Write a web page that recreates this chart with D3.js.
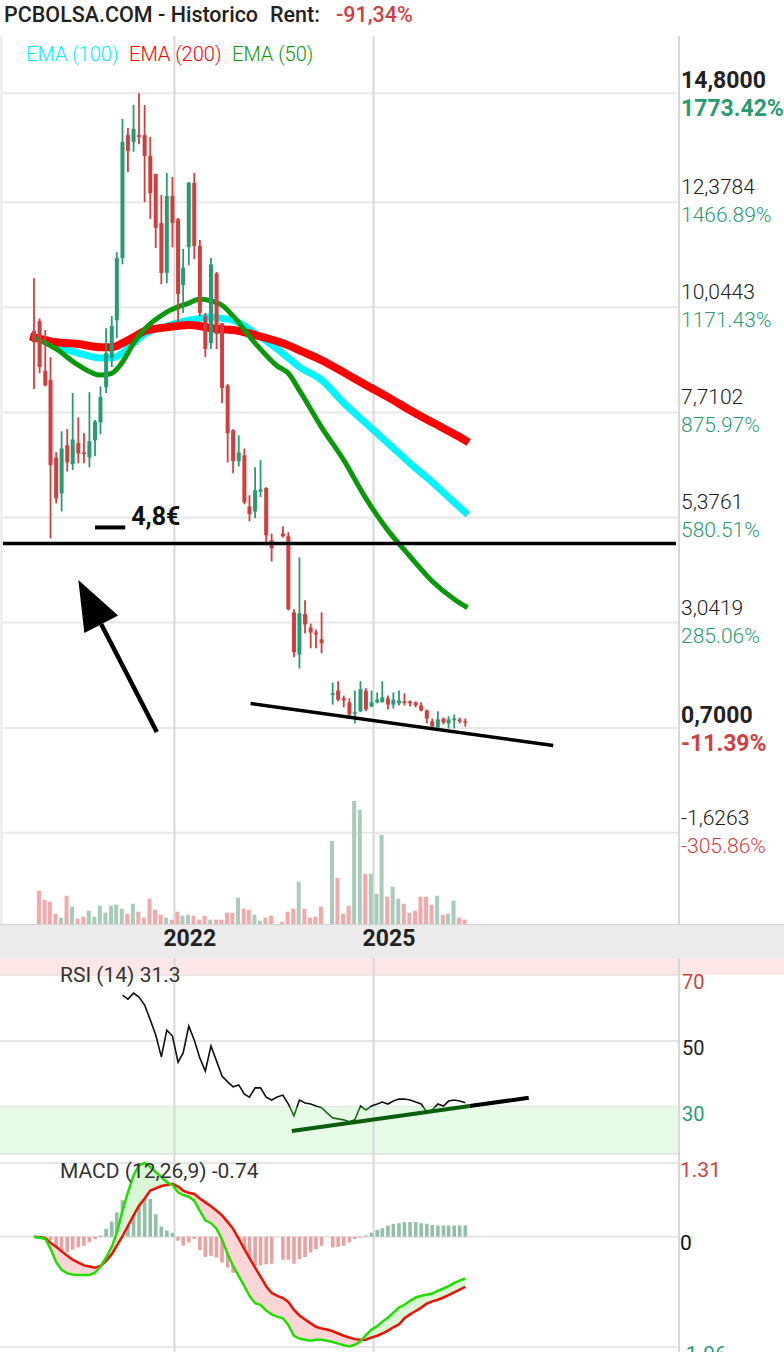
<!DOCTYPE html>
<html>
<head>
<meta charset="utf-8">
<script src="https://cdn.jsdelivr.net/npm/d3@7"></script>
<style>
  body { margin: 0; background: #fff; }
  svg { display: block; font-family: Roboto, "Liberation Sans", sans-serif; }
</style>
</head>
<body>
<div id="chart"></div>
<script>
// monthly candles, first one is Dec 2019 (slots 44 and 53 have no trading)
const firstMonth = "2019-12-01";

const opens = [9.52, 9.74, 8.63, 8.43, 6.71, 5.91, 6.98, 6.56, 7.03, 6.82,
  6.71, 7.09, 7.49, 8.27, 8.92, 9.76, 11.14, 13.87, 13.72, 13.87,
  13.87, 13.41, 13.01, 11.92, 10.81, 12.52, 12.00, 10.54, 11.38, 12.81,
  11.41, 9.85, 9.25, 10.80, 9.69, 8.31, 7.31, 6.63, 6.76, 5.62,
  5.51, 5.95, 6.03, 4.87, null, 5.02, 4.96, 3.27, 2.33, 3.23,
  2.93, 2.82, 2.67, null, 1.45, 1.53, 1.36, 1.27, 1.02, 1.07,
  1.53, 1.18, 1.27, 1.27, 1.36, 1.22, 1.25, 1.29, 1.29, 1.27,
  1.20, 1.09, 0.85, 0.71, 0.91, 0.80, 0.87, 0.89, 0.85];
const highs = [10.69, 9.80, 9.54, 8.94, 6.83, 7.29, 7.34, 8.14, 7.60, 7.25,
  8.16, 7.54, 8.29, 9.58, 9.85, 11.27, 14.23, 14.03, 14.54, 14.80,
  14.54, 13.83, 13.01, 12.54, 13.03, 12.94, 12.03, 11.34, 12.83, 13.03,
  11.54, 9.92, 11.14, 10.83, 9.69, 8.34, 7.34, 7.20, 6.91, 5.87,
  6.49, 6.65, 6.05, 5.02, null, 5.18, 5.05, 3.34, 4.49, 3.54,
  3.02, 2.89, 3.27, null, 1.71, 1.74, 1.42, 1.36, 1.53, 1.74,
  1.58, 1.53, 1.49, 1.74, 1.42, 1.49, 1.53, 1.47, 1.31, 1.29,
  1.27, 1.11, 0.91, 1.07, 0.93, 0.96, 1.00, 0.93, 0.91];
const lows = [8.23, 8.58, 8.29, 4.91, 5.69, 5.51, 6.40, 6.43, 6.58, 6.58,
  6.49, 6.74, 7.23, 8.14, 8.72, 9.36, 11.00, 13.05, 13.50, 13.67,
  12.38, 12.01, 11.36, 10.56, 10.58, 11.38, 9.69, 9.92, 10.98, 11.12,
  9.85, 8.94, 9.12, 9.12, 7.92, 6.60, 6.36, 6.51, 5.67, 5.29,
  5.36, 5.83, 4.76, 4.40, null, 4.93, 3.31, 2.27, 2.02, 2.80,
  2.47, 2.47, 2.36, null, 1.22, 1.29, 1.16, 0.96, 0.80, 1.05,
  1.07, 1.16, 1.25, 1.27, 1.11, 1.13, 1.20, 1.20, 1.18, 1.16,
  1.07, 0.80, 0.73, 0.71, 0.78, 0.69, 0.69, 0.80, 0.73];
const closes = [9.27, 8.72, 8.31, 6.54, 5.80, 6.91, 6.60, 7.11, 6.80, 6.79,
  7.07, 7.51, 8.05, 9.03, 9.63, 11.14, 13.72, 13.52, 14.01, 13.83,
  13.41, 12.58, 11.81, 10.81, 12.52, 11.92, 10.34, 10.92, 12.81, 11.41,
  9.92, 9.12, 11.00, 9.45, 8.25, 7.25, 6.63, 6.82, 5.71, 5.45,
  5.98, 6.00, 4.98, 4.69, null, 4.96, 3.34, 2.38, 3.25, 3.00,
  2.82, 2.78, 2.58, null, 1.47, 1.33, 1.31, 1.00, 1.05, 1.56,
  1.11, 1.27, 1.33, 1.38, 1.22, 1.33, 1.31, 1.27, 1.25, 1.20,
  1.09, 0.91, 0.73, 0.89, 0.82, 0.89, 0.91, 0.85, 0.82];
const volumes = [0, 100, 73, 67, 31, 19, 85, 52, 16, 22, 40,
  22, 55, 34, 55, 58, 46, 31, 61, 37, 19,
  76, 43, 28, 19, 13, 37, 25, 28, 25, 13,
  25, 13, 13, 13, 34, 34, 79, 46, 43, 28,
  10, 19, 25, 0, 7, 37, 46, 127, 46, 19,
  22, 52, 0, 250, 139, 31, 55, 370, 343, 151,
  151, 91, 268, 82, 112, 76, 61, 34, 40, 82,
  82, 58, 85, 28, 31, 70, 19, 13];

// moving averages, read at these candle slots
const emaSlots = [0, 4, 8, 12, 14, 16, 18, 20, 24, 28, 30, 32, 34, 36, 40, 44, 46, 48, 52, 56, 60, 64, 68, 72, 76, 78];
const ema100 = [9.38, 9.18, 9.03, 8.92, 8.92, 9.03, 9.25, 9.45, 9.63, 9.76, 9.80, 9.83, 9.80, 9.76, 9.47, 9.12, 8.92, 8.72, 8.43, 7.92, 7.47, 7.03, 6.58, 6.16, 5.71, 5.49];
const ema200 = [9.38, 9.27, 9.23, 9.16, 9.16, 9.25, 9.38, 9.52, 9.60, 9.65, 9.63, 9.58, 9.56, 9.54, 9.43, 9.29, 9.20, 9.09, 8.87, 8.60, 8.32, 8.05, 7.76, 7.49, 7.23, 7.09];
const ema50 = [9.38, 9.12, 8.76, 8.54, 8.58, 8.83, 9.25, 9.56, 9.94, 10.14, 10.23, 10.19, 10.09, 9.85, 9.25, 8.74, 8.58, 8.20, 7.38, 6.65, 5.80, 5.09, 4.51, 3.96, 3.56, 3.40];

// RSI(14) from slot 16 on
const rsiFirstSlot = 16;
const rsiValues = [63.9, 62.7, 64.5, 63.3, 60.9, 56.4, 51.8, 45.2, 53.3, 51.5,
  43.6, 46.4, 54.5, 50.3, 44.8, 40.9, 48.5, 43.9, 39.4, 37.6,
  36.1, 36.7, 33.9, 33.0, 35.8, 35.8, 33.0, 32.1, 33.0, 33.6,
  30.9, 27.3, 32.1, 31.2, 30.9, 30.3, 29.8, 28.2, 26.7, 26.4,
  26.1, 25.5, 26.1, 30.3, 29.1, 30.3, 30.9, 31.5, 30.9, 31.8,
  32.4, 32.4, 32.1, 31.5, 30.9, 28.5, 29.1, 30.9, 30.3, 31.8,
  32.1, 31.8, 31.3];

// MACD (12,26,9)
const macdValues = [0, -0.02, -0.04, -0.21, -0.45, -0.59, -0.65, -0.67, -0.68, -0.68,
  -0.68, -0.64, -0.53, -0.37, -0.18, 0.07, 0.46, 0.79, 1.09, 1.27,
  1.31, 1.24, 1.15, 1.06, 0.97, 0.92, 0.79, 0.74, 0.71, 0.64,
  0.46, 0.29, 0.24, 0.14, -0.05, -0.31, -0.52, -0.70, -0.88, -1.05,
  -1.18, -1.21, -1.31, -1.38, -1.42, -1.45, -1.57, -1.76, -1.81, -1.83,
  -1.85, -1.83, -1.83, -1.85, -1.87, -1.90, -1.93, -1.95, -1.92, -1.86,
  -1.75, -1.65, -1.59, -1.51, -1.44, -1.35, -1.26, -1.21, -1.14, -1.08,
  -1.05, -1.03, -1.01, -0.96, -0.92, -0.88, -0.82, -0.78, -0.74];
const signalValues = [0, -0.01, -0.02, -0.11, -0.18, -0.26, -0.34, -0.41, -0.46, -0.51,
  -0.53, -0.55, -0.52, -0.43, -0.31, -0.16, 0.01, 0.19, 0.38, 0.55,
  0.68, 0.82, 0.86, 0.90, 0.92, 0.94, 0.89, 0.82, 0.78, 0.76,
  0.68, 0.61, 0.54, 0.46, 0.38, 0.26, 0.14, -0.04, -0.22, -0.38,
  -0.55, -0.71, -0.88, -1.00, -1.05, -1.09, -1.16, -1.30, -1.40, -1.47,
  -1.54, -1.60, -1.63, -1.65, -1.68, -1.72, -1.76, -1.79, -1.82, -1.83,
  -1.83, -1.79, -1.76, -1.72, -1.67, -1.61, -1.56, -1.45, -1.38, -1.32,
  -1.26, -1.19, -1.15, -1.12, -1.08, -1.04, -0.99, -0.94, -0.89];
const histValues = [0, 0, 0, -0.06, -0.34, -0.32, -0.27, -0.23, -0.19, -0.16,
  -0.10, -0.04, 0.02, 0.14, 0.27, 0.43, 0.65, 0.65, 0.83, 0.79,
  0.73, 0.67, 0.40, 0.18, 0.11, 0.07, -0.07, -0.16, -0.10, -0.04,
  -0.24, -0.36, -0.34, -0.37, -0.46, -0.55, -0.64, -0.67, -0.61, -0.55,
  -0.52, -0.51, -0.49, -0.48, 0, -0.41, -0.41, -0.48, -0.40, -0.36,
  -0.28, -0.22, -0.16, 0, -0.19, -0.18, -0.16, -0.10, -0.04, -0.02,
  0.02, 0.07, 0.12, 0.15, 0.20, 0.23, 0.24, 0.26, 0.26, 0.26,
  0.24, 0.23, 0.21, 0.20, 0.20, 0.20, 0.20, 0.20, 0.20];

// axis labels
const priceTicks = [14.8, 12.3784, 10.0443, 7.7102, 5.3761, 3.0419, 0.7, -1.6263];
const priceTickText = ["14,8000", "12,3784", "10,0443", "7,7102", "5,3761", "3,0419", "0,7000", "-1,6263"];
const pctTickText = ["1773.42%", "1466.89%", "1171.43%", "875.97%", "580.51%", "285.06%", "-11.39%", "-305.86%"];
const boldTicks = [14.8, 0.7];
const yearTicks = ["2022", "2025"];
const rsiTicks = [70, 50, 30];
const macdTicks = [1.31, 0, -1.96];
const macdTickText = ["1.31", "0", "-1.96"];

// titles and drawn annotations
const titleText = "PCBOLSA.COM - Historico";
const rentLabel = "Rent:";
const rentText = "-91,34%";
const emaLegend = ["EMA (100)", "EMA (200)", "EMA (50)"];
const levelPrice = 4.8;
const levelText = "4,8€";
const levelDash = ["2020-11-01", "2021-04-16"];
const arrowFrom = ["2021-10-07", 0.61];
const arrowTo = ["2020-08-01", 3.99];
const supportLine = [["2023-03-07", 1.245], ["2027-09-28", 0.31]];
const rsiTrendGreen = [["2023-10-20", 22.7], ["2026-06-25", 30.3]];
const rsiTrendBlack = [["2026-06-25", 30.3], ["2027-05-16", 32.8]];

const width = 784;
const height = 1352;
const left = 3;
const right = 679;

const red = "#d03f3f";
const green = "#2a9a73";

const svg = d3.select("#chart").append("svg")
    .attr("width", width)
    .attr("height", height);

svg.append("rect").attr("width", width).attr("height", height).attr("fill", "#fff");

const parse = d3.timeParse("%Y-%m-%d");
const start = parse(firstMonth);
const dates = opens.map((d, i) => d3.timeMonth.offset(start, i));

const x = d3.scaleTime()
    .domain([start, dates[dates.length - 1]])
    .range([34, 465.3]);
const yP = d3.scaleLinear().domain([-1.6263, 14.8]).range([832.7, 93.3]);
const yV = d3.scaleLinear().domain([0, 370]).range([924, 801]);
const yR = d3.scaleLinear().domain([30, 70]).range([1107, 975]);
const yM = d3.scaleLinear().domain([-1.96, 1.31]).range([1347, 1163]);

const pt = p => [x(parse(p[0])), p[1]];

// ---- grids ----
const grid = svg.append("g");
grid.selectAll(".hp").data(priceTicks).enter().append("line")
    .attr("x1", left).attr("x2", right)
    .attr("y1", d => yP(d)).attr("y2", d => yP(d))
    .attr("stroke", "#e8e8e8").attr("stroke-width", 2);

// RSI zones
svg.append("rect").attr("x", 0).attr("width", width)
    .attr("y", 958).attr("height", yR(70) - 958).attr("fill", "#fde6e6");
svg.append("rect").attr("x", 0).attr("width", right)
    .attr("y", yR(30)).attr("height", 1154 - yR(30)).attr("fill", "#e6fbe6");
grid.selectAll(".hr").data(rsiTicks).enter().append("line")
    .attr("x1", 0).attr("x2", right)
    .attr("y1", d => yR(d)).attr("y2", d => yR(d))
    .attr("stroke", "#e6e6e6").attr("stroke-width", 2);
svg.append("line").attr("x1", 0).attr("x2", right).attr("y1", 1154).attr("y2", 1154)
    .attr("stroke", "#e6e6e6").attr("stroke-width", 2);
svg.selectAll(".hm").data(macdTicks).enter().append("line")
    .attr("x1", 0).attr("x2", right)
    .attr("y1", d => yM(d)).attr("y2", d => yM(d))
    .attr("stroke", "#e6e6e6").attr("stroke-width", 2);

svg.selectAll(".vy").data(yearTicks).enter().append("line")
    .attr("x1", d => x(parse(d + "-01-01")) + 2).attr("x2", d => x(parse(d + "-01-01")) + 2)
    .attr("y1", 36).attr("y2", height)
    .attr("stroke", "#d8d8d8").attr("stroke-width", 2);
svg.append("line").attr("x1", right).attr("x2", right).attr("y1", 36).attr("y2", height)
    .attr("stroke", "#d8d8d8").attr("stroke-width", 2);
svg.append("line").attr("x1", 1.5).attr("x2", 1.5).attr("y1", 36).attr("y2", 924)
    .attr("stroke", "#e8e8e8").attr("stroke-width", 2);

// ---- candles data ----
const candles = dates.map((d, i) => ({
    date: d, o: opens[i], h: highs[i], l: lows[i], c: closes[i], v: volumes[i]
})).filter(d => d.o != null);

// volume
svg.append("g").selectAll("rect").data(candles.filter(d => d.v > 0)).enter().append("rect")
    .attr("x", d => x(d.date) - 2.7)
    .attr("width", 4)
    .attr("y", d => yV(d.v))
    .attr("height", d => yV(0) - yV(d.v))
    .attr("fill", d => d.c >= d.o ? "#a9cbb9" : "#f2a9a9");

// EMAs
const emaLine = d3.line()
    .x((d, i) => x(dates[emaSlots[i]]))
    .y(d => yP(d))
    .curve(d3.curveMonotoneX);
svg.append("path").attr("d", emaLine(ema100)).attr("fill", "none")
    .attr("stroke", "#00f4ff").attr("stroke-width", 7).attr("stroke-linecap", "square");
svg.append("path").attr("d", emaLine(ema200)).attr("fill", "none")
    .attr("stroke", "#ff0000").attr("stroke-width", 8).attr("stroke-linecap", "square");
svg.append("path").attr("d", emaLine(ema50)).attr("fill", "none")
    .attr("stroke", "#0a990a").attr("stroke-width", 5).attr("stroke-linecap", "square");

// candles
const cg = svg.append("g");
cg.selectAll("line").data(candles).enter().append("line")
    .attr("x1", d => x(d.date)).attr("x2", d => x(d.date))
    .attr("y1", d => yP(d.h)).attr("y2", d => yP(d.l))
    .attr("stroke", d => d.c >= d.o ? green : red)
    .attr("stroke-width", 1.8);
cg.selectAll("rect").data(candles).enter().append("rect")
    .attr("x", d => x(d.date) - 2)
    .attr("width", 4)
    .attr("y", d => yP(Math.max(d.o, d.c)))
    .attr("height", d => Math.max(1.5, Math.abs(yP(d.o) - yP(d.c))))
    .attr("fill", d => d.c >= d.o ? green : red);

// ---- annotations ----
svg.append("line")
    .attr("x1", left).attr("x2", 676)
    .attr("y1", yP(levelPrice)).attr("y2", yP(levelPrice))
    .attr("stroke", "#000").attr("stroke-width", 3.5);
svg.append("line")
    .attr("x1", x(parse(levelDash[0]))).attr("x2", x(parse(levelDash[1])))
    .attr("y1", yP(levelPrice) - 16).attr("y2", yP(levelPrice) - 16)
    .attr("stroke", "#000").attr("stroke-width", 4);
svg.append("text")
    .attr("x", x(parse(levelDash[1])) + 6).attr("y", yP(levelPrice) - 18)
    .attr("font-size", 25).attr("font-weight", 700).attr("fill", "#111")
    .text(levelText);

const a0 = [x(parse(arrowFrom[0])), yP(arrowFrom[1])];
const a1 = [x(parse(arrowTo[0])), yP(arrowTo[1])];
const alen = Math.hypot(a1[0] - a0[0], a1[1] - a0[1]);
const ux = (a1[0] - a0[0]) / alen, uy = (a1[1] - a0[1]) / alen;
const base = [a1[0] - ux * 50, a1[1] - uy * 50];
svg.append("line")
    .attr("x1", a0[0]).attr("y1", a0[1]).attr("x2", base[0]).attr("y2", base[1])
    .attr("stroke", "#000").attr("stroke-width", 4.5);
svg.append("path")
    .attr("d", `M${a1[0]},${a1[1]}L${base[0] - uy * 19},${base[1] + ux * 19}L${base[0] + uy * 19},${base[1] - ux * 19}Z`)
    .attr("fill", "#000");

const sl = supportLine.map(pt);
svg.append("line")
    .attr("x1", sl[0][0]).attr("y1", yP(sl[0][1]))
    .attr("x2", sl[1][0]).attr("y2", yP(sl[1][1]))
    .attr("stroke", "#000").attr("stroke-width", 3.5);

// ---- x axis band ----
svg.append("rect").attr("x", 0).attr("y", 924).attr("width", width).attr("height", 34)
    .attr("fill", "#ebebeb");
svg.append("line").attr("x1", 0).attr("x2", width).attr("y1", 924.5).attr("y2", 924.5)
    .attr("stroke", "#d4d4d4").attr("stroke-width", 1);
svg.selectAll(".yl").data(yearTicks).enter().append("text")
    .attr("x", d => x(parse(d + "-01-01")) - 9)
    .attr("y", 946)
    .attr("font-size", 23).attr("font-weight", 700).attr("fill", "#222")
    .text(d => d);

// ---- header ----
const head = svg.append("text").attr("x", 4).attr("y", 22)
    .attr("font-size", 21.5).attr("font-weight", 500);
head.append("tspan").attr("fill", "#222").text(titleText);
head.append("tspan").attr("dx", 12).attr("fill", "#222").text(rentLabel);
head.append("tspan").attr("dx", 16).attr("fill", red).text(rentText);

const legendColors = ["#00f0ff", "#ff0000", "#0a990a"];
const leg = svg.append("text").attr("y", 61).attr("font-size", 20).attr("font-weight", 300);
emaLegend.forEach((t, i) => {
    leg.append("tspan").attr("x", [26, 129, 232][i]).attr("fill", legendColors[i]).text(t);
});

// ---- right price labels ----
const pl = svg.append("g");
priceTicks.forEach((v, i) => {
    const bold = boldTicks.includes(v);
    pl.append("text")
        .attr("x", 681).attr("y", yP(v) - (bold ? 5 : 8))
        .attr("font-size", bold ? 23 : 21).attr("font-weight", bold ? 700 : 300)
        .attr("fill", "#222")
        .text(priceTickText[i]);
    pl.append("text")
        .attr("x", 681).attr("y", yP(v) + (bold ? 23 : 20))
        .attr("font-size", bold ? 23 : 21).attr("font-weight", bold ? 700 : 300)
        .attr("fill", pctTickText[i].startsWith("-") ? red : green)
        .text(pctTickText[i]);
});

// ---- RSI ----
const rsiData = rsiValues.map((v, i) => ({ date: dates[rsiFirstSlot + i], v }));
const rsiLine = d3.line().x(d => x(d.date)).y(d => yR(d.v));
const defs = svg.append("defs");
defs.append("clipPath").attr("id", "rsiUp").append("rect")
    .attr("x", 0).attr("width", width).attr("y", 958).attr("height", yR(30) - 958);
defs.append("clipPath").attr("id", "rsiDown").append("rect")
    .attr("x", 0).attr("width", width).attr("y", yR(30)).attr("height", 1154 - yR(30));
svg.append("path").attr("d", rsiLine(rsiData)).attr("fill", "none")
    .attr("stroke", "#111").attr("stroke-width", 1.6).attr("clip-path", "url(#rsiUp)");
svg.append("path").attr("d", rsiLine(rsiData)).attr("fill", "none")
    .attr("stroke", "#1d6b1d").attr("stroke-width", 1.6).attr("clip-path", "url(#rsiDown)");

const tg = rsiTrendGreen.map(pt), tb = rsiTrendBlack.map(pt);
svg.append("line")
    .attr("x1", tg[0][0]).attr("y1", yR(tg[0][1])).attr("x2", tg[1][0]).attr("y2", yR(tg[1][1]))
    .attr("stroke", "#0b5e0b").attr("stroke-width", 4);
svg.append("line")
    .attr("x1", tb[0][0]).attr("y1", yR(tb[0][1])).attr("x2", tb[1][0]).attr("y2", yR(tb[1][1]))
    .attr("stroke", "#000").attr("stroke-width", 4);

svg.append("text").attr("x", 60).attr("y", 982)
    .attr("font-size", 21).attr("fill", "#333")
    .text(`RSI (14) ${rsiValues[rsiValues.length - 1]}`);
svg.selectAll(".rt").data(rsiTicks).enter().append("text")
    .attr("x", 682).attr("y", d => yR(d) + 14)
    .attr("font-size", 20)
    .attr("fill", d => d === 70 ? red : d === 30 ? green : "#222")
    .text(d => d);

// ---- MACD ----
const md = dates.map((d, i) => ({ date: d, m: macdValues[i], s: signalValues[i], h: histValues[i] }));
svg.append("g").selectAll("rect").data(md.filter(d => d.h !== 0)).enter().append("rect")
    .attr("x", d => x(d.date) - 1.8)
    .attr("width", 3.6)
    .attr("y", d => Math.min(yM(0), yM(d.h)))
    .attr("height", d => Math.abs(yM(d.h) - yM(0)))
    .attr("fill", d => d.h > 0 ? "#92bfa9" : "#e8a2a2");

const upArea = d3.area().x(d => x(d.date)).y0(d => yM(d.s)).y1(d => yM(Math.max(d.m, d.s)));
const downArea = d3.area().x(d => x(d.date)).y0(d => yM(d.s)).y1(d => yM(Math.min(d.m, d.s)));
svg.append("path").attr("d", upArea(md)).attr("fill", "#d9f7d6");
svg.append("path").attr("d", downArea(md)).attr("fill", "#fcd6d6");

const mLine = d3.line().x(d => x(d.date));
svg.append("path").attr("d", mLine.y(d => yM(d.s))(md)).attr("fill", "none")
    .attr("stroke", "#ee1100").attr("stroke-width", 2.5);
svg.append("path").attr("d", mLine.y(d => yM(d.m))(md)).attr("fill", "none")
    .attr("stroke", "#22dd00").attr("stroke-width", 2.5);

svg.append("text").attr("x", 60).attr("y", 1178)
    .attr("font-size", 21).attr("fill", "#333")
    .text(`MACD (12,26,9) ${macdValues[macdValues.length - 1]}`);
svg.selectAll(".mt").data(macdTicks).enter().append("text")
    .attr("x", 680).attr("y", (d, i) => yM(d) + [14, 13, 14][i])
    .attr("font-size", 21)
    .attr("fill", d => d > 0 ? red : d < 0 ? green : "#111")
    .text((d, i) => macdTickText[i]);
</script>
</body>
</html>
